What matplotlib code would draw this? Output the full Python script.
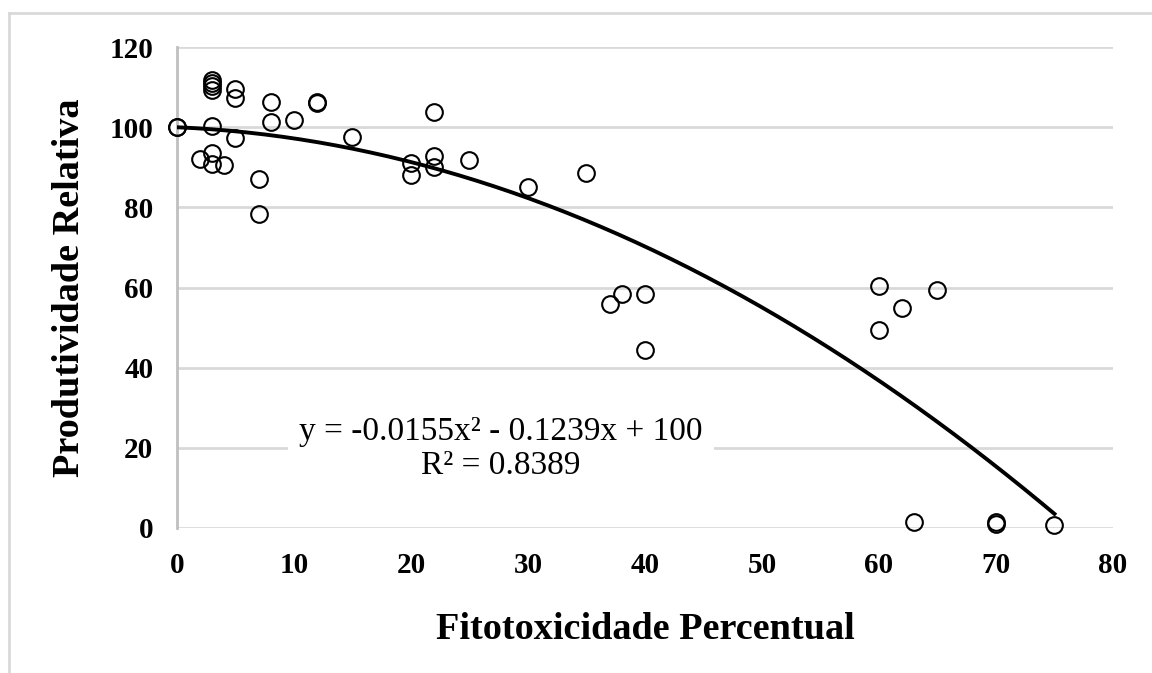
import numpy as np
import matplotlib.pyplot as plt
from matplotlib.lines import Line2D

plt.rcParams['font.family'] = ['Liberation Serif', 'DejaVu Serif']

# Data
fito = [0, 0, 3, 3, 3, 3, 5, 5, 8, 8, 12, 12, 10, 3, 5, 15, 22,
        2, 3, 3, 4, 7, 7, 20, 20, 22, 22, 25, 30, 35,
        37, 38, 40, 40, 60, 60, 62, 65, 63, 70, 70, 75]
prod = [100, 100, 111.8, 111.0, 110.2, 109.4, 109.5, 107.4, 106.4, 101.2, 106.2, 106.0, 101.8, 100.4, 97.4, 97.6, 103.7,
        92.0, 93.6, 90.8, 90.7, 87.0, 78.3, 91.0, 88.2, 92.8, 90.1, 91.8, 85.0, 88.5,
        55.8, 58.4, 58.4, 44.5, 60.3, 49.3, 55.0, 59.3, 1.4, 1.4, 0.9, 0.7]

# trendline coefficients (shown on chart)
coef = [-0.0155, -0.1239, 100]
fit_range = [0, 75]
eq_text = 'y = -0.0155x² - 0.1239x + 100\nR² = 0.8389'

fig = plt.figure(figsize=(11.52, 6.73), dpi=100)
ax = fig.add_axes([0.1536, 0.2155, 0.8125, 0.7145])

grid_c = '#d9d9d9'
ax.set_xlim(0, 80)
ax.set_ylim(0, 120)
ax.set_xticks(np.arange(0, 81, 10))
ax.set_yticks(np.arange(0, 121, 20))
ax.yaxis.grid(True, color=grid_c, lw=2)
ax.set_axisbelow(True)
for s in ['top', 'right', 'bottom']:
    ax.spines[s].set_visible(False)
ax.spines['left'].set_color('#bfbfbf')
ax.spines['left'].set_linewidth(2)
ax.tick_params(axis='y', length=0, labelsize=21, pad=17)
ax.tick_params(axis='x', length=0, labelsize=21, pad=17)
for lab in ax.get_xticklabels() + ax.get_yticklabels():
    lab.set_fontweight('bold')

xs = np.linspace(fit_range[0], fit_range[1], 200)
ax.plot(xs, np.polyval(coef, xs), color='black', lw=2.8, zorder=3)
ax.plot(fito, prod, 'o', ms=12, mfc='none', mec='black', mew=1.5, zorder=4, clip_on=False)

ax.text(27.7, 19.8, eq_text, ha='center', va='center', fontsize=24,
        linespacing=1.12, zorder=5,
        bbox=dict(facecolor='white', edgecolor='none', pad=8))

ax.set_xlabel('Fitotoxicidade Percentual', fontsize=27.5, fontweight='bold', labelpad=24)
ax.set_ylabel('Produtividade Relativa', fontsize=27.5, fontweight='bold', labelpad=16)

# outer chart border (top and left visible)
fig.add_artist(Line2D([9 / 1152, 1], [1 - 13 / 673, 1 - 13 / 673], color=grid_c, lw=2))
fig.add_artist(Line2D([9 / 1152, 9 / 1152], [0, 1 - 13 / 673], color=grid_c, lw=2))

fig.savefig('out.png', dpi=100)
